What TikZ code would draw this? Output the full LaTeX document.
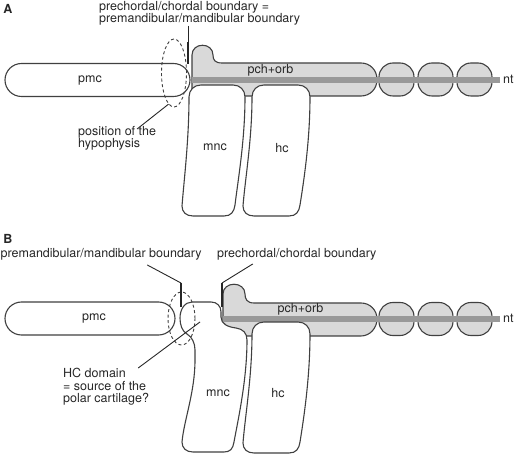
\documentclass[tikz,border=0pt]{standalone}
\usepackage{fontspec}
\setmainfont{TeX Gyre Heros}
\usetikzlibrary{shapes.geometric}

\begin{document}
\begin{tikzpicture}
    [x=1pt, y=1pt,
    txt/.style={font=\fontsize{12.5}{12.5}\selectfont, text=black!85, inner sep=0pt},
    panel/.style={font=\fontsize{12.5}{12.5}\selectfont\bfseries, text=black!85, inner sep=0pt},
    cartilage/.style={draw=black!75, line width=1.1pt, fill=white},
    rod/.style={cartilage, rectangle, rounded corners=16.5pt, minimum height=33pt, inner sep=0pt},
    trabecula/.style={draw=black!75, line width=1.1pt, fill=black!15},
    bead/.style={trabecula, rectangle, rounded corners=14pt, minimum width=35pt, minimum height=33pt,
    inner sep=0pt},
    notochord/.style={black!40, line width=5.5pt},
    hypo/.style={ellipse, draw=black!75, line width=0.9pt, dash pattern=on 3pt off 2.5pt, inner sep=0pt},
    leader/.style={draw=black!85, line width=0.9pt},
    boundary/.style={draw=black!85, line width=2.4pt}]
    \useasboundingbox (0,0) rectangle (515,-457);

    \node [panel] (A) at (8,-9) {A};
    \draw [trabecula] (192,-96) -- (192,-55) .. controls (192,-42) and (213,-42) .. (213,-55)
    .. controls (213,-60) and (215,-63) .. (222,-63) -- (361,-63) .. controls (370,-63) and (377,-70)
    .. (377,-79.5) .. controls (377,-89) and (370,-96) .. (361,-96) -- cycle;
    \node [bead] (segA1) at (396.5,-79.5) {};
    \node [bead] (segA2) at (435.5,-79.5) {};
    \node [bead] (segA3) at (474.5,-79.5) {};
    \draw [notochord] (192,-80) -- (500,-80);
    \node [txt, anchor=base west] (ntA) at (503,-83.5) {nt};
    \node [txt, anchor=base] (pchA) at (270.5,-74) {pch+orb};
    \draw [cartilage] (201,-85) -- (233,-85) .. controls (240,-85) and (245,-90) .. (245,-97)
    .. controls (245,-140) and (238,-180) .. (235,-205) .. controls (234,-212) and (231,-216) .. (224,-216)
    -- (193,-216) .. controls (186,-216) and (182,-212) .. (182,-206) .. controls (184,-180) and (189,-140)
    .. (189,-97) .. controls (189,-90) and (194,-85) .. (201,-85) -- cycle;
    \node [txt] (mncA) at (215,-147) {mnc};
    \draw [cartilage] (264,-85) -- (298,-85) .. controls (305,-85) and (310,-90) .. (310,-97)
    .. controls (310,-140) and (304,-180) .. (300,-205) .. controls (299,-212) and (296,-216) .. (289,-216)
    -- (254,-216) .. controls (247,-216) and (243,-212) .. (243,-206) .. controls (245,-180) and (252,-140)
    .. (252,-97) .. controls (252,-90) and (257,-85) .. (264,-85) -- cycle;
    \node [txt] (hcA) at (282,-148) {hc};
    \node [rod, minimum width=185pt] (pmcA) at (97.5,-80) {};
    \node [txt] (pmcAtxt) at (90,-80) {pmc};
    \node [hypo, minimum width=25pt, minimum height=68pt] (hypoA) at (174,-73) {};
    \node [txt, anchor=north west, align=left] (posA) at (78,-126) {position of the\\hypophysis};
    \node [txt, anchor=north west, align=left] (bndlabA) at (99,-1) {prechordal/chordal boundary =\\
    premandibular/mandibular boundary};
    \coordinate (bndA) at (188,-42);
    \draw [leader] ([xshift=20pt,yshift=-3pt]posA.north) -- (hypoA.260);
    \draw [leader] (bndlabA.south -| bndA) -- (bndA);
    \draw [boundary] (bndA) -- ++(0,-22);

    \node [panel] (B) at (8,-239) {B};
    \draw [trabecula] (223,-336) -- (223,-294) .. controls (223,-281) and (245,-281) .. (245,-294)
    .. controls (245,-299) and (247,-303) .. (254,-303) -- (361,-303) .. controls (370,-303) and (377,-310)
    .. (377,-319) .. controls (377,-328) and (370,-336) .. (361,-336) -- cycle;
    \node [bead] (segB1) at (396.5,-319) {};
    \node [bead] (segB2) at (435.5,-319) {};
    \node [bead] (segB3) at (474.5,-319) {};
    \draw [notochord] (223,-319) -- (500,-319);
    \node [txt, anchor=base west] (ntB) at (503,-322.5) {nt};
    \node [txt, anchor=base] (pchB) at (300.5,-313) {pch+orb};
    \draw [cartilage] (192,-302) -- (211,-302) .. controls (217,-302) and (221,-306) .. (221,-312)
    -- (221,-317) .. controls (221,-324) and (228,-327) .. (236,-328) .. controls (243,-329) and (247,-333)
    .. (247,-340) .. controls (247,-380) and (238,-420) .. (234,-442) .. controls (233,-449) and (230,-452)
    .. (224,-452) -- (193,-452) .. controls (186,-452) and (182,-448) .. (182,-442)
    .. controls (184,-420) and (195,-392) .. (195,-360) -- (195,-350) .. controls (195,-343) and (192,-337)
    .. (187,-334) .. controls (182,-331) and (180,-325) .. (180,-318) .. controls (180,-309) and (185,-302)
    .. (192,-302) -- cycle;
    \node [txt] (mncB) at (218,-393) {mnc};
    \draw [cartilage, yshift=-237pt] (264,-85) -- (298,-85) .. controls (305,-85) and (310,-90) .. (310,-97)
    .. controls (310,-140) and (304,-180) .. (300,-205) .. controls (299,-212) and (296,-216) .. (289,-216)
    -- (254,-216) .. controls (247,-216) and (243,-212) .. (243,-206) .. controls (245,-180) and (252,-140)
    .. (252,-97) .. controls (252,-90) and (257,-85) .. (264,-85) -- cycle;
    \node [txt] (hcB) at (278,-393) {hc};
    \node [rod, minimum width=170pt] (pmcB) at (90,-318.5) {};
    \node [txt] (pmcBtxt) at (94,-318.5) {pmc};
    \node [hypo, minimum width=27pt, minimum height=53pt] (hcellB) at (181.5,-318.5) {};
    \node [txt, anchor=base west] (pmlabB) at (0.5,-258) {premandibular/mandibular boundary};
    \node [txt, anchor=base west] (pclabB) at (217,-258) {prechordal/chordal boundary};
    \node [txt, anchor=north west, align=left] (hcdomB) at (63,-368) {HC domain\\= source of the\\
    polar cartilage?};
    \coordinate (pmB) at (181,-283);
    \coordinate (pcB) at (222,-283);
    \coordinate (hcsite) at (200,-322);
    \draw [leader] ([xshift=46pt,yshift=-4pt]pmlabB.south) -- (pmB);
    \draw [boundary] (pmB) -- ++(0,-24);
    \draw [leader] ([xshift=-44pt,yshift=-3pt]pclabB.south) -- (pcB);
    \draw [boundary] (pcB) -- ++(0,-24);
    \draw [leader] ([xshift=-11pt]hcdomB.north east) -- (hcsite);
\end{tikzpicture}
\end{document}
